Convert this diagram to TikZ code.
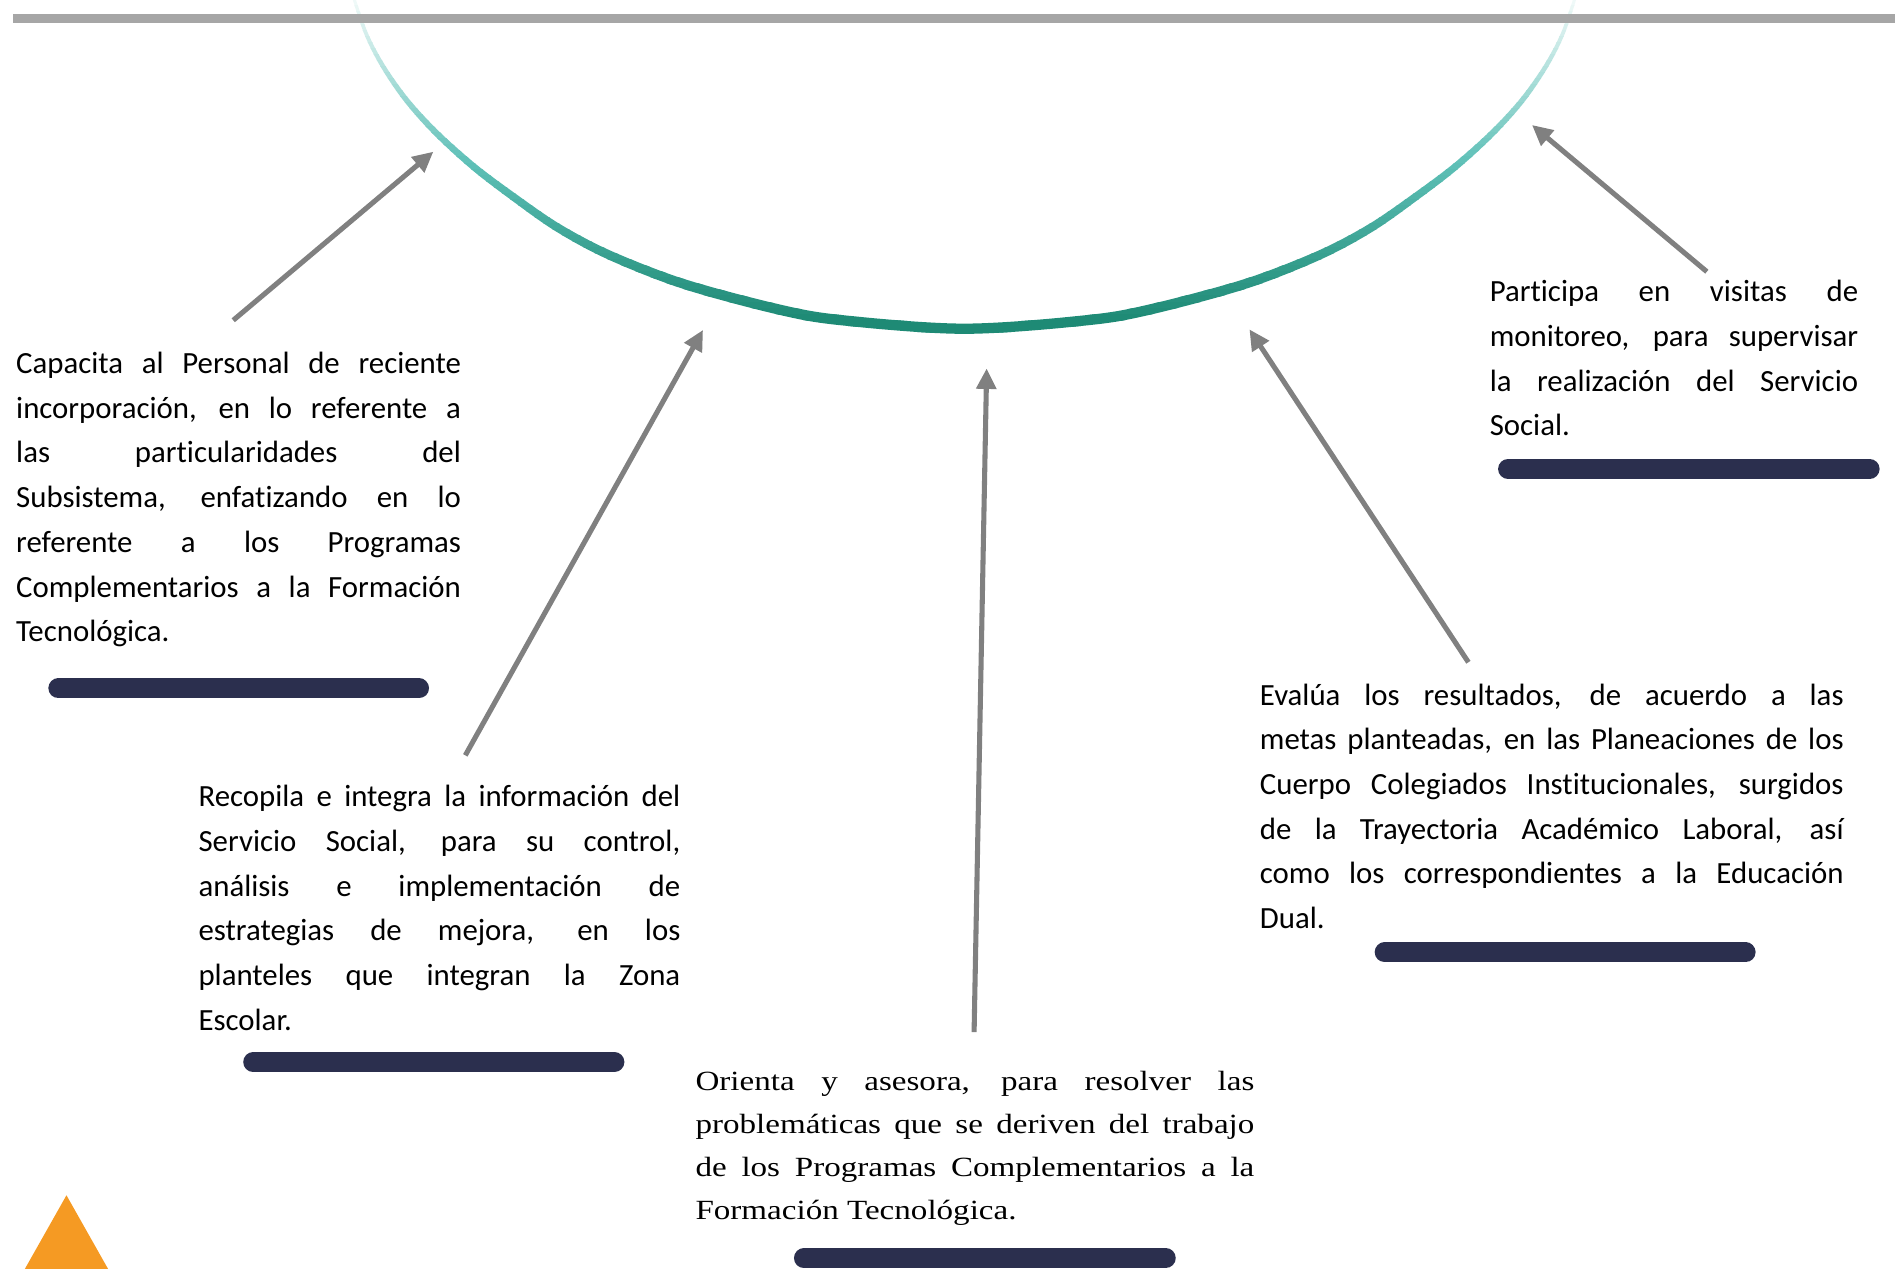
\documentclass[tikz,border=0pt]{standalone}
\usepackage{fontspec}
\setmainfont{Carlito}[Ligatures={NoCommon}]
\newfontfamily\serifx[FakeStretch=1.19]{Liberation Serif}
\usetikzlibrary{arrows.meta}
\definecolor{topgray}{HTML}{A6A6A6}
\definecolor{arrgray}{HTML}{808080}
\definecolor{barnavy}{HTML}{2B2F4E}
\definecolor{tealL}{HTML}{F2FAF9}
\definecolor{tealM}{HTML}{5EC0B7}
\definecolor{tealD}{HTML}{1E8A75}
\definecolor{orangeT}{HTML}{F59A23}
\newcommand\JL[1]{\makebox[\linewidth][s]{#1}\par}
\tikzset{
  arr/.style={draw=arrgray, line width=4.2pt, -{Triangle[length=17pt,width=16pt]}},
  barline/.style={draw=barnavy, line width=16.5pt, line cap=round},
  txt/.style={inner sep=0pt, anchor=base west, font=\fontsize{25.5}{37}\selectfont},
  txtserif/.style={inner sep=0pt, anchor=base west, font=\serifx\fontsize{23}{35.8}\selectfont},
}
\def\arcpath{plot[smooth,tension=0.55] coordinates {(292,-4) (303,28) (317,55) (336.5,83) (361,110) (392,138) (425,163) (461,188) (502,210) (557,232) (612,248) (667.5,261) (712,266.5) (760,270.5) (798,272) (836,270.5) (884,266.5) (928.5,261) (984,248) (1039,232) (1094,210) (1135,188) (1171,163) (1204,138) (1235,110) (1259.5,83) (1279,55) (1293,28) (1304,-4)}}
\begin{document}
\begin{tikzpicture}[x=1pt,y=-1pt]
\useasboundingbox (0,0) rectangle (1568,1050);
% gradient arc
\foreach \i in {0,...,55}{
  \pgfmathsetmacro\yc{\i*5+2.5}
  \pgfmathsetmacro\pa{min(100,\yc/135*100)}
  \pgfmathsetmacro\pb{min(100,max(0,(\yc-135)/130*100))}
  \pgfmathsetmacro\lw{2.5+6*min(1,\yc/255)}
  \colorlet{bandA}{tealM!\pa!tealL}
  \colorlet{bandC}{tealD!\pb!bandA}
  \begin{scope}
    \clip (0,{\yc-2.6}) rectangle (1568,{\yc+2.6});
    \draw[bandC, line width=\lw pt] \arcpath;
  \end{scope}
}
% top gray line
\coordinate (gl) at (11,15.5);
\coordinate (gr) at (1580,15.5);
\draw[topgray, line width=7.7pt] (gl) -- (gr);
% texts
\node[txt] (t1) at (13.2,309) {\parbox[t]{368pt}{%
\JL{Capacita al Personal de reciente}%
\JL{incorporación, en lo referente a}%
\JL{las particularidades del}%
\JL{Subsistema, enfatizando en lo}%
\JL{referente a los Programas}%
\JL{Complementarios a la Formación}%
Tecnológica.}};
\node[txt] (t2) at (164.1,667.5) {\parbox[t]{398.6pt}{%
\JL{Recopila e integra la información del}%
\JL{Servicio Social, para su control,}%
\JL{análisis e implementación de}%
\JL{estrategias de mejora, en los}%
\JL{planteles que integran la Zona}%
Escolar.}};
\node[txtserif] (t3) at (575.3,902) {\parbox[t]{462.4pt}{%
\JL{Orienta y asesora, para resolver las}%
\JL{problemáticas que se deriven del trabajo}%
\JL{de los Programas Complementarios a la}%
Formación Tecnológica.}};
\node[txt] (t4) at (1042.3,583.4) {\parbox[t]{483pt}{%
\JL{Evalúa los resultados, de acuerdo a las}%
\JL{metas planteadas, en las Planeaciones de los}%
\JL{Cuerpo Colegiados Institucionales, surgidos}%
\JL{de la Trayectoria Académico Laboral, así}%
\JL{como los correspondientes a la Educación}%
Dual.}};
\node[txt] (t5) at (1232.5,249.6) {\parbox[t]{304.8pt}{%
\JL{Participa en visitas de}%
\JL{monitoreo, para supervisar}%
\JL{la realización del Servicio}%
Social.}};
% bars
\coordinate (b1l) at (48.25,569.6);  \coordinate (b1r) at (346.75,569.6);
\coordinate (b2l) at (209.5,878.8);  \coordinate (b2r) at (508.4,878.8);
\coordinate (b3l) at (665.2,1041);   \coordinate (b3r) at (964.6,1041);
\coordinate (b4l) at (1145.7,788);   \coordinate (b4r) at (1444.4,788);
\coordinate (b5l) at (1247.8,388);   \coordinate (b5r) at (1547,388);
\draw[barline] (b1l) -- (b1r);
\draw[barline] (b2l) -- (b2r);
\draw[barline] (b3l) -- (b3r);
\draw[barline] (b4l) -- (b4r);
\draw[barline] (b5l) -- (b5r);
% arrows
\coordinate (a1s) at (193,265);     \coordinate (a1e) at (358.6,125.5);
\coordinate (a2s) at (385,625);     \coordinate (a2e) at (581.7,273);
\coordinate (a3s) at (806,854);     \coordinate (a3e) at (816.4,304.8);
\coordinate (a4s) at (1215,548);    \coordinate (a4e) at (1033.8,272.5);
\coordinate (a5s) at (1412.3,224.8); \coordinate (a5e) at (1267.6,103.4);
\draw[arr] (a1s) -- (a1e);
\draw[arr] (a2s) -- (a2e);
\draw[arr] (a3s) -- (a3e);
\draw[arr] (a4s) -- (a4e);
\draw[arr] (a5s) -- (a5e);
% orange triangle
\coordinate (tr1) at (55,989);
\coordinate (tr2) at (14.9,1060);
\coordinate (tr3) at (95.1,1060);
\fill[orangeT] (tr1) -- (tr2) -- (tr3) -- cycle;
\end{tikzpicture}
\end{document}
